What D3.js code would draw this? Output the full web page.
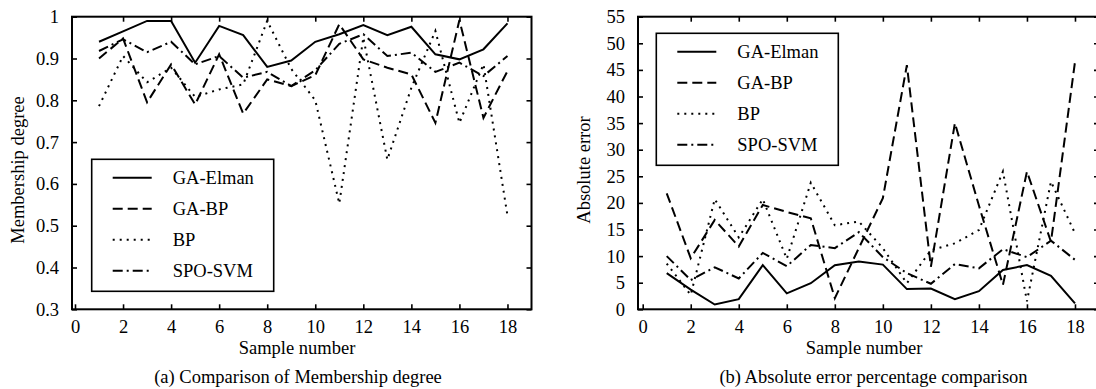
<!DOCTYPE html>
<html>
<head>
<meta charset="utf-8">
<script src="https://cdn.jsdelivr.net/npm/d3@7/dist/d3.min.js"></script>
<style>
  body { margin: 0; background: #fff; }
  svg { display: block; }
</style>
</head>
<body>
<svg id="chart" width="1096" height="389"></svg>
<script>
// sample numbers 1..18
const samples = [1, 2, 3, 4, 5, 6, 7, 8, 9, 10, 11, 12, 13, 14, 15, 16, 17, 18];
const seriesNames = ['GA-Elman', 'GA-BP', 'BP', 'SPO-SVM'];

// (a) membership degree
const gaElmanMem = [0.94, 0.965, 0.99, 0.99, 0.89, 0.978, 0.956, 0.88, 0.895, 0.94, 0.958, 0.98, 0.956, 0.976, 0.91, 0.898, 0.922, 0.984];
const gaBpMem = [0.90, 0.948, 0.795, 0.886, 0.79, 0.91, 0.768, 0.85, 0.834, 0.86, 0.982, 0.898, 0.878, 0.862, 0.746, 0.992, 0.758, 0.87];
const bpMem = [0.786, 0.906, 0.843, 0.878, 0.808, 0.826, 0.838, 0.99, 0.875, 0.80, 0.553, 0.95, 0.658, 0.83, 0.966, 0.746, 0.886, 0.524];
const spoSvmMem = [0.918, 0.946, 0.915, 0.94, 0.886, 0.906, 0.854, 0.868, 0.834, 0.872, 0.935, 0.958, 0.906, 0.914, 0.868, 0.89, 0.858, 0.906];

// (b) absolute error
const gaElmanErr = [6.8, 3.7, 0.9, 1.9, 8.3, 3.0, 4.9, 8.3, 9.0, 8.4, 3.8, 3.9, 1.9, 3.4, 7.4, 8.3, 6.3, 1.1];
const gaBpErr = [21.8, 9.6, 16.8, 11.8, 19.6, 18.3, 17.1, 2.1, 11.5, 20.9, 45.9, 8.0, 35.0, 19.5, 4.6, 25.9, 12.7, 46.5];
const bpErr = [8.6, 2.7, 20.7, 13.5, 20.7, 9.5, 23.8, 15.8, 16.5, 11.5, 4.9, 11.1, 12.4, 14.9, 25.9, 1.5, 24.0, 14.3];
const spoSvmErr = [10.0, 5.5, 7.9, 5.8, 10.6, 8.1, 12.1, 11.5, 14.5, 9.8, 6.8, 4.8, 8.5, 7.7, 11.3, 9.8, 12.9, 9.3];

const xTicks = [0, 2, 4, 6, 8, 10, 12, 14, 16, 18];
const memTicks = [0.3, 0.4, 0.5, 0.6, 0.7, 0.8, 0.9, 1];
const errTicks = [0, 5, 10, 15, 20, 25, 30, 35, 40, 45, 50, 55];

const dashes = ['none', '10,5', '2,5', '10,4,2,4'];
const FONT = '"Liberation Serif", "Times New Roman", serif';
const FS = '18.5px';

const svg = d3.select('#chart');

// every text goes through here so the serif font is really applied
function serif(sel) {
  return sel.style('font-family', FONT).style('font-size', FS).style('fill', '#000');
}

function drawPanel(opts) {
  const x = d3.scaleLinear().domain([0, 19]).range([opts.x0, opts.x19]);
  const y = d3.scaleLinear().domain(opts.yDomain).range([opts.bottom, opts.top]);
  const g = svg.append('g');

  const styleAxis = sel => {
    sel.select('.domain').remove();
    sel.selectAll('.tick line').attr('stroke', '#000').attr('stroke-width', 1.6);
    sel.selectAll('.tick text').call(serif);
  };

  g.append('g')
    .attr('transform', `translate(0,${opts.bottom})`)
    .call(d3.axisBottom(x).tickValues(xTicks).tickSizeInner(-5).tickSizeOuter(0).tickPadding(10.5))
    .call(styleAxis);
  g.append('g')
    .attr('transform', `translate(0,${opts.top})`)
    .call(d3.axisTop(x).tickValues(xTicks.slice(1)).tickSizeInner(-5).tickSizeOuter(0).tickFormat(''))
    .call(styleAxis);
  g.append('g')
    .attr('transform', `translate(${opts.left},0)`)
    .call(d3.axisLeft(y).tickValues(opts.yTicks).tickSizeInner(-5).tickSizeOuter(0).tickPadding(13).tickFormat(opts.fmt))
    .call(styleAxis);
  g.append('g')
    .attr('transform', `translate(${opts.x19},0)`)
    .call(d3.axisRight(y).tickValues(opts.yTicks).tickSizeInner(-5).tickSizeOuter(0).tickFormat(''))
    .call(styleAxis);

  // frame
  g.append('rect')
    .attr('x', opts.left).attr('y', opts.top)
    .attr('width', opts.x19 - opts.left).attr('height', opts.bottom - opts.top)
    .attr('fill', 'none').attr('stroke', '#000').attr('stroke-width', 2);

  const line = d3.line().x((d, i) => x(samples[i])).y(d => y(d));
  opts.series.forEach((s, k) => {
    g.append('path')
      .datum(s)
      .attr('d', line)
      .attr('fill', 'none')
      .attr('stroke', '#000')
      .attr('stroke-width', 2)
      .attr('stroke-dasharray', dashes[k]);
  });

  // legend
  const lg = g.append('g').attr('transform', `translate(${opts.legend[0]},${opts.legend[1]})`);
  lg.append('rect')
    .attr('width', 182).attr('height', 132)
    .attr('fill', '#fff').attr('stroke', '#000').attr('stroke-width', 1.6);
  seriesNames.forEach((name, k) => {
    const ry = 18.5 + k * 31;
    lg.append('line')
      .attr('x1', 21).attr('x2', 60).attr('y1', ry).attr('y2', ry)
      .attr('stroke', '#000').attr('stroke-width', 2)
      .attr('stroke-dasharray', dashes[k]);
    lg.append('text')
      .attr('x', 81).attr('y', ry + 6)
      .call(serif)
      .text(name);
  });

  // titles
  g.append('text')
    .attr('transform', `translate(${opts.yLabelX},170) rotate(-90)`)
    .attr('text-anchor', 'middle').attr('dy', '0.35em')
    .call(serif)
    .text(opts.yLabel);
  g.append('text')
    .attr('x', opts.xLabelX).attr('y', 354)
    .attr('text-anchor', 'middle')
    .call(serif)
    .text('Sample number');
  g.append('text')
    .attr('x', opts.captionX).attr('y', 383)
    .attr('text-anchor', 'middle')
    .call(serif)
    .text(opts.caption);
}

drawPanel({
  left: 72, x0: 75, x19: 531.5, top: 16.7, bottom: 309.3,
  yDomain: [0.3, 1], yTicks: memTicks,
  fmt: d => d === 1 ? '1' : d.toFixed(1),
  series: [gaElmanMem, gaBpMem, bpMem, spoSvmMem],
  legend: [91.7, 159.3],
  yLabel: 'Membership degree', yLabelX: 17.5,
  xLabelX: 297, captionX: 298,
  caption: '(a) Comparison of Membership degree'
});

drawPanel({
  left: 638, x0: 642.7, x19: 1099, top: 16.7, bottom: 309.3,
  yDomain: [0, 55], yTicks: errTicks,
  fmt: d => String(d),
  series: [gaElmanErr, gaBpErr, bpErr, spoSvmErr],
  legend: [656.3, 33.3],
  yLabel: 'Absolute error', yLabelX: 583.5,
  xLabelX: 864, captionX: 873.5,
  caption: '(b) Absolute error percentage comparison'
});
</script>
</body>
</html>
